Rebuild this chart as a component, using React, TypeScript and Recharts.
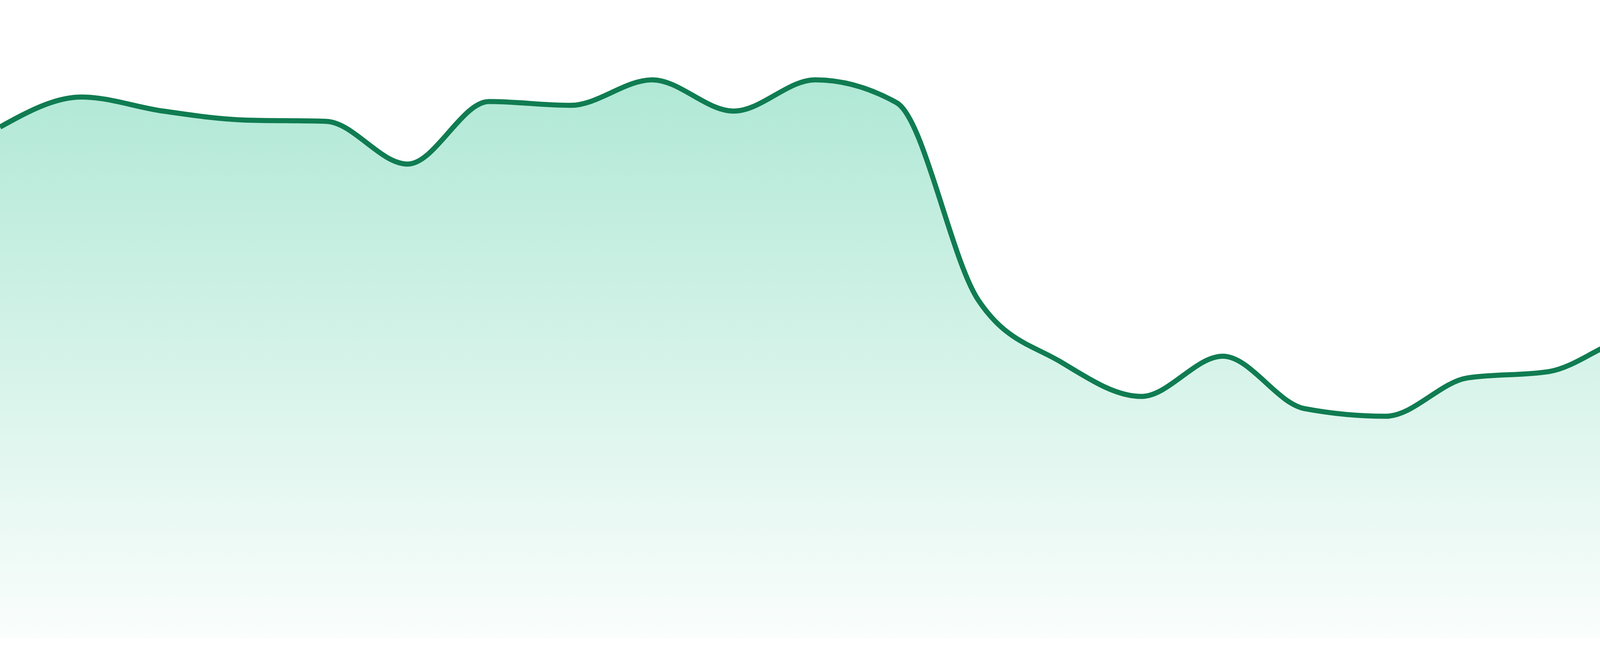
import { Area, AreaChart, XAxis, YAxis } from "recharts";

// 24 hourly samples (0-100 scale)
const hours = [
    "00:00", "01:00", "02:00", "03:00", "04:00", "05:00", "06:00", "07:00",
    "08:00", "09:00", "10:00", "11:00", "12:00", "13:00", "14:00", "15:00",
    "16:00", "17:00", "18:00", "19:00", "20:00", "21:00", "22:00", "23:00",
];

const usage = [
    80.1, 84.8, 82.6, 81.2, 81.0, 74.3, 84.1, 83.5,
    87.5, 82.6, 87.5, 83.9, 53.0, 43.4, 37.9, 44.2,
    36.0, 34.8, 40.8, 41.8, 47.2, 48.5, 45.2, 47.9,
];

const data = hours.map((hour, i) => ({ hour, usage: usage[i] }));

export default function App() {
    return (
        <div style={{ position: "absolute", left: 0, top: 0, background: "#ffffff" }}>
            <AreaChart
                width={4800}
                height={1680}
                data={data}
                margin={{ top: 0, right: 0, bottom: 45, left: 0 }}
            >
                <defs>
                    <linearGradient id="usageFill" x1="0" y1="0" x2="0" y2="1">
                        <stop offset="0%" stopColor="#10b981" stopOpacity={0.33} />
                        <stop offset="100%" stopColor="#10b981" stopOpacity={0.02} />
                    </linearGradient>
                </defs>
                <XAxis dataKey="hour" hide />
                <YAxis domain={[0, 100]} hide />
                <Area
                    type="monotone"
                    dataKey="usage"
                    stroke="#107c52"
                    strokeWidth={13}
                    fill="url(#usageFill)"
                    fillOpacity={1}
                    dot={false}
                    activeDot={false}
                    isAnimationActive={false}
                />
            </AreaChart>
        </div>
    );
}
